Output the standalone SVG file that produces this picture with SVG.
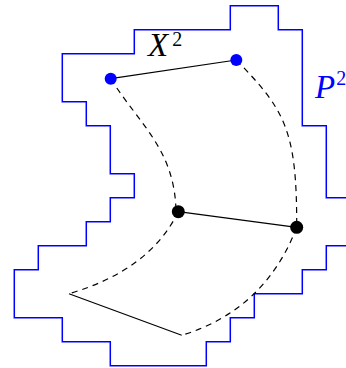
<svg xmlns="http://www.w3.org/2000/svg" width="346" height="368" viewBox="0 0 346 368">
<style>
.region{fill:none;stroke:#0000ff;stroke-width:1.5}
.solid{fill:none;stroke:#000;stroke-width:1.2}
.dash{fill:none;stroke:#000;stroke-width:1.2;stroke-dasharray:6 5}
.lbl{font-family:"Liberation Serif",serif;font-style:italic;font-size:33px}
.sup{font-family:"Liberation Serif",serif;font-size:20px}
</style>
<rect width="346" height="368" fill="#fff"/>
<g id="region-P2">
<path class="region" d="M346,197.7 H326.3 V125.7 H302.3 V29.7 H278.3 V5.7 H230.3 V29.7 H134.3 V53.7 H62.3 V101.7 H86.3 V125.7 H110.3 V173.7 H134.3 V197.7 H110.3 V221.7 H86.3 V245.7 H38.3 V269.7 H14.3 V317.7 H62.3 V341.7 H110.3 V365.7 H206.3 V341.7 H230.3 V317.7 H254.3 V293.7 H302.3 V269.7 H326.3 V245.7 H346"/>
<text class="lbl" x="315" y="98" fill="#0000ff">P<tspan class="sup" dy="-13" dx="1" font-style="normal">2</tspan></text>
</g>
<g id="connectors">
<path class="dash" d="M110.7,78.7 C140,125 175,150 176,211.7"/>
<path class="dash" d="M236.3,60 C285,110 297,130 296.7,227.3"/>
<path class="dash" d="M178.3,211.7 Q150,270 69,293.7"/>
<path class="dash" d="M296.7,227.3 Q265,310 181.7,335.3"/>
<line class="solid" x1="110.7" y1="78.7" x2="236.3" y2="60"/>
<line class="solid" x1="178.3" y1="211.7" x2="296.7" y2="227.3"/>
<line class="solid" x1="69" y1="293.7" x2="181.7" y2="335.3"/>
</g>
<g id="label-X2">
<text class="lbl" x="148" y="56" fill="#000">X<tspan class="sup" dy="-10" dx="4" font-style="normal">2</tspan></text>
</g>
<g id="node-b1"><circle cx="110.7" cy="78.7" r="6" fill="#0000ff"/></g>
<g id="node-b2"><circle cx="236.3" cy="60" r="6" fill="#0000ff"/></g>
<g id="node-k1"><circle cx="178.3" cy="211.7" r="6.5" fill="#000"/></g>
<g id="node-k2"><circle cx="296.7" cy="227.3" r="6.5" fill="#000"/></g>
</svg>
